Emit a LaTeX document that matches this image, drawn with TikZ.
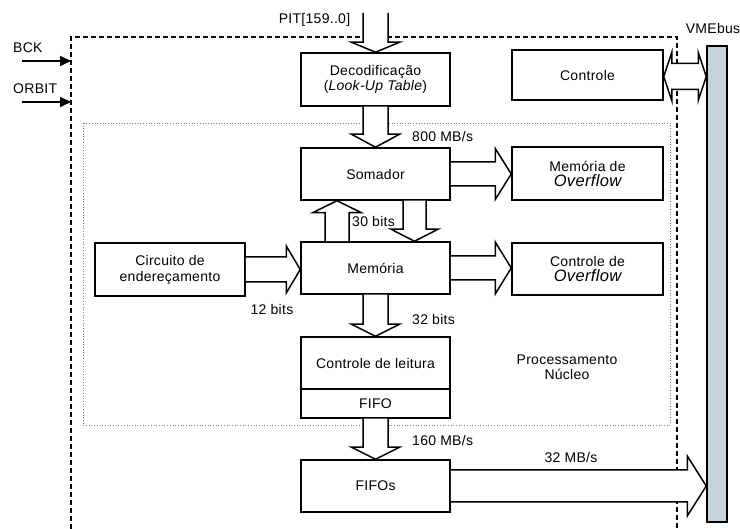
\documentclass[tikz,border=0pt]{standalone}
\usepackage{fontspec}
\setmainfont{Liberation Sans}[LetterSpace=2]
\usepackage{tikz}
\usetikzlibrary{arrows,arrows.meta,calc}

\definecolor{busblue}{RGB}{197,211,220}

% fat (block) arrows between nodes: from, to, shaft half width, head half width, head length
\newcommand{\fatdown}[5]{
  \draw[fat] let \p1=(#1), \p2=(#2) in
    (\x1-#3,\y1) -- (\x1-#3,\y2+#5) -- (\x1-#4,\y2+#5) -- (\x1,\y2)
    -- (\x1+#4,\y2+#5) -- (\x1+#3,\y2+#5) -- (\x1+#3,\y1);
}
\newcommand{\fatup}[5]{
  \draw[fat] let \p1=(#1), \p2=(#2) in
    (\x1-#3,\y1) -- (\x1-#3,\y2-#5) -- (\x1-#4,\y2-#5) -- (\x1,\y2)
    -- (\x1+#4,\y2-#5) -- (\x1+#3,\y2-#5) -- (\x1+#3,\y1);
}
\newcommand{\fatright}[5]{
  \draw[fat] let \p1=(#1), \p2=(#2) in
    (\x1,\y1+#3) -- (\x2-#5,\y1+#3) -- (\x2-#5,\y1+#4) -- (\x2,\y1)
    -- (\x2-#5,\y1-#4) -- (\x2-#5,\y1-#3) -- (\x1,\y1-#3);
}
\newcommand{\fatboth}[5]{
  \draw[fat] let \p1=(#1), \p2=(#2) in
    (\x1,\y1) -- (\x1+#5,\y1+#4) -- (\x1+#5,\y1+#3) -- (\x2-#5,\y1+#3)
    -- (\x2-#5,\y1+#4) -- (\x2,\y1) -- (\x2-#5,\y1-#4) -- (\x2-#5,\y1-#3)
    -- (\x1+#5,\y1-#3) -- (\x1+#5,\y1-#4) -- cycle;
}

\begin{document}
\begin{tikzpicture}[x=1pt, y=-1pt, font=\fontsize{14}{15}\selectfont]
      \tikzset{box/.style = {draw, line width=1.5pt, minimum width=149pt, minimum height=52pt, align=center, inner sep=0pt},
               fat/.style = {draw, fill=white, line width=1.5pt, line join=miter},
               bus/.style = {draw, fill=busblue, line width=1.5pt, minimum width=20pt, minimum height=476pt, inner sep=0pt},
               sig/.style = {line width=1.8pt, -{Triangle[length=11pt, width=10pt]}}}
      \useasboundingbox (0,0) rectangle (740,529);

      % frames
      \draw[line width=1.5pt, dash pattern=on 5pt off 3pt] (71,529) -- (71,37) -- (677,37) -- (677,529);
      \draw[gray, line width=0.7pt, dotted] (83,123) rectangle (670,425);

      % blocks
      \node[box, minimum height=53pt] (decod) at (375.5,79.5) {Decodificação\\(\textit{Look-Up Table})};
      \node[box, minimum width=151pt, minimum height=50pt] (ctrl) at (587.5,75) {Controle};
      \node[box] (som) at (375.5,174) {Somador};
      \node[box, minimum width=151pt, minimum height=53pt] (memov) at (587.5,173.5) {Memória de\\{\fontsize{16.5}{19}\selectfont\itshape Overflow}};
      \node[box] (mem) at (375.5,268) {Memória};
      \node[box, minimum width=151pt] (ctrlov) at (587.5,269) {Controle de\\{\fontsize{16.5}{19}\selectfont\itshape Overflow}};
      \node[box, minimum width=150pt, minimum height=53pt, align=center] (circ) at (170,269.5) {Circuito de\\[1pt]endereçamento};
      \node[box] (leit) at (375.5,363) {Controle de leitura};
      \node[box, minimum height=29pt] (fifo) at (375.5,403.5) {FIFO};
      \node[box] (fifos) at (375.5,486) {FIFOs};
      \node[bus] (vme) at (717,284) {};

      % inputs
      \coordinate (pit) at (375.5,13);
      \coordinate (bckin) at (22,61);
      \coordinate (bck) at (71,61);
      \coordinate (orbitin) at (22,102);
      \coordinate (orbit) at (71,102);
      \draw[sig] (bckin) -- (bck);
      \draw[sig] (orbitin) -- (orbit);

      % block arrows
      \fatdown{pit}{decod.north}{12.5pt}{24pt}{10pt}
      \fatdown{decod.south}{som.north}{12.5pt}{24pt}{13pt}
      \fatup{[xshift=-38.5pt]mem.north}{[xshift=-38.5pt]som.south}{12pt}{24.5pt}{12pt}
      \fatdown{[xshift=39pt]som.south}{[xshift=39pt]mem.north}{11.5pt}{23.5pt}{12pt}
      \fatright{som.east}{memov.west}{12pt}{25.5pt}{16pt}
      \fatright{mem.east}{ctrlov.west}{12pt}{26pt}{16pt}
      \fatright{circ.east}{mem.west}{12.5pt}{23.5pt}{14pt}
      \fatdown{mem.south}{leit.north}{12.5pt}{24pt}{12pt}
      \fatdown{fifo.south}{fifos.north}{12.5pt}{24pt}{12pt}
      \fatright{fifos.east}{vme.west}{16pt}{30pt}{19pt}
      \fatboth{[yshift=-1.5pt]ctrl.east}{ctrl.east -| vme.west}{13pt}{24pt}{8pt}

      % labels
      \node (pitlbl) at (314.5,20) {PIT[159..0]};
      \node[anchor=west, inner sep=0pt] (bcklbl) at (13,48) {BCK};
      \node[anchor=west, inner sep=0pt] (orbitlbl) at (13,89) {ORBIT};
      \node (vmelbl) at (713,28) {VMEbus};
      \node[anchor=west, inner sep=0pt] (r800) at (412,136) {800 MB/s};
      \node[anchor=west, inner sep=0pt] (w30) at (352,221) {30 bits};
      \node (w12) at (272,309) {12 bits};
      \node[anchor=west, inner sep=0pt] (w32) at (412,319) {32 bits};
      \node[align=center] (nucleo) at (567,367) {Processamento\\Núcleo};
      \node[anchor=west, inner sep=0pt] (r160) at (412,440) {160 MB/s};
      \node (r32) at (571,457) {32 MB/s};
    \end{tikzpicture}
\end{document}
